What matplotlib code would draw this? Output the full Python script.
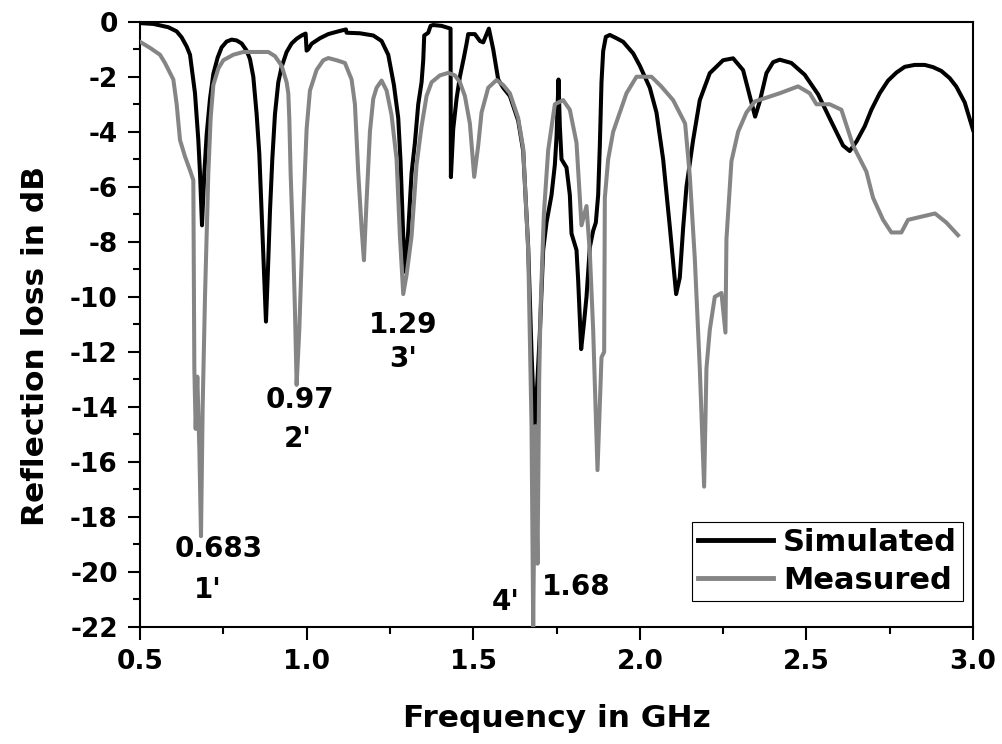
import matplotlib
matplotlib.use('Agg')
from matplotlib import pyplot as plt
from matplotlib.ticker import MultipleLocator, FormatStrFormatter

OUTPUT_FILE = 'out.png'

# simulated reflection loss (GHz, dB)
sim_freq = [0.500, 0.540, 0.585, 0.610, 0.625, 0.640, 0.650, 0.665, 0.675, 0.680,
            0.686, 0.693, 0.700, 0.710, 0.720, 0.733, 0.745, 0.760, 0.775, 0.790,
            0.805, 0.820, 0.830, 0.840, 0.850, 0.858, 0.865, 0.872, 0.878, 0.884,
            0.890, 0.897, 0.905, 0.915, 0.925, 0.940, 0.955, 0.970, 0.985, 0.997,
            1.000, 1.005, 1.015, 1.040, 1.065, 1.095, 1.118, 1.120, 1.160, 1.200,
            1.225, 1.245, 1.262, 1.275, 1.282, 1.290, 1.297, 1.305, 1.315, 1.325,
            1.335, 1.345, 1.350, 1.353, 1.365, 1.372, 1.380, 1.405, 1.432, 1.433,
            1.440, 1.450, 1.460, 1.472, 1.480, 1.485, 1.505, 1.520, 1.530, 1.547,
            1.560, 1.575, 1.590, 1.610, 1.635, 1.650, 1.665, 1.675, 1.684, 1.692,
            1.700, 1.710, 1.720, 1.735, 1.745, 1.750, 1.756, 1.760, 1.765, 1.780,
            1.790, 1.795, 1.810, 1.815, 1.824, 1.832, 1.840, 1.850, 1.860, 1.868,
            1.875, 1.880, 1.885, 1.890, 1.898, 1.910, 1.930, 1.950, 1.980, 2.000,
            2.015, 2.030, 2.050, 2.070, 2.090, 2.109, 2.120, 2.130, 2.140, 2.160,
            2.180, 2.210, 2.250, 2.280, 2.310, 2.330, 2.346, 2.360, 2.380, 2.400,
            2.420, 2.455, 2.495, 2.535, 2.575, 2.610, 2.630, 2.650, 2.675, 2.695,
            2.720, 2.745, 2.770, 2.795, 2.825, 2.855, 2.880, 2.905, 2.930, 2.950,
            2.975, 3.000]
sim_db = [-0.05, -0.08, -0.2, -0.35, -0.57, -0.9, -1.2, -2.6, -4.3, -5.5,
          -7.4, -5.5, -4.1, -2.8, -1.9, -1.3, -0.93, -0.72, -0.65, -0.68,
          -0.79, -1.05, -1.36, -2.0, -3.36, -4.8, -6.9, -9.0, -10.9, -9.0,
          -6.9, -5.0, -3.36, -2.2, -1.64, -1.1, -0.79, -0.62, -0.5, -0.43,
          -1.05, -1.0, -0.8, -0.6, -0.45, -0.35, -0.28, -0.4, -0.42, -0.5,
          -0.7, -1.2, -2.3, -3.5, -5.1, -7.8, -9.1, -7.6, -5.5, -4.4,
          -3.0, -2.2, -1.4, -0.5, -0.4, -0.15, -0.12, -0.15, -0.25, -5.65,
          -3.9, -2.8, -2.0, -1.3, -0.8, -0.45, -0.45, -0.7, -0.75, -0.25,
          -1.0, -2.1, -2.4, -2.7, -3.6, -4.7, -8.2, -12.0, -14.8, -13.2,
          -11.3, -8.3, -7.3, -6.3, -5.2, -4.2, -2.1, -3.8, -5.0, -5.3,
          -6.3, -7.7, -8.3, -9.4, -11.9, -11.0, -10.0, -8.2, -7.6, -7.3,
          -6.3, -4.5, -2.2, -1.07, -0.55, -0.48, -0.6, -0.73, -1.15, -1.6,
          -2.0, -2.4, -3.3, -5.0, -7.45, -9.9, -9.3, -7.5, -6.0, -4.3,
          -2.85, -1.87, -1.4, -1.33, -1.76, -2.7, -3.45, -2.9, -1.87, -1.47,
          -1.38, -1.5, -1.93, -2.64, -3.64, -4.5, -4.7, -4.36, -3.8, -3.2,
          -2.6, -2.14, -1.85, -1.64, -1.57, -1.57, -1.65, -1.79, -2.05, -2.36,
          -2.93, -3.93]

# measured reflection loss (GHz, dB)
meas_freq = [0.500, 0.530, 0.560, 0.575, 0.600, 0.610, 0.620, 0.635, 0.650, 0.660,
             0.663, 0.667, 0.672, 0.678, 0.683, 0.688, 0.695, 0.705, 0.712, 0.720,
             0.735, 0.750, 0.780, 0.810, 0.860, 0.885, 0.905, 0.925, 0.940, 0.945,
             0.948, 0.952, 0.960, 0.965, 0.970, 0.978, 0.990, 1.000, 1.010, 1.030,
             1.050, 1.065, 1.090, 1.115, 1.135, 1.145, 1.155, 1.165, 1.172, 1.180,
             1.190, 1.200, 1.210, 1.225, 1.240, 1.255, 1.270, 1.280, 1.290, 1.300,
             1.315, 1.330, 1.345, 1.360, 1.375, 1.400, 1.425, 1.445, 1.460, 1.475,
             1.490, 1.503, 1.515, 1.525, 1.545, 1.570, 1.590, 1.610, 1.635, 1.650,
             1.665, 1.675, 1.680, 1.686, 1.693, 1.698, 1.702, 1.712, 1.725, 1.745,
             1.770, 1.790, 1.810, 1.825, 1.840, 1.850, 1.860, 1.873, 1.885, 1.893,
             1.895, 1.905, 1.920, 1.940, 1.960, 1.990, 2.035, 2.065, 2.100, 2.136,
             2.150, 2.165, 2.180, 2.193, 2.200, 2.210, 2.225, 2.245, 2.257, 2.260,
             2.275, 2.295, 2.320, 2.345, 2.370, 2.420, 2.475, 2.510, 2.530, 2.570,
             2.605, 2.640, 2.680, 2.700, 2.730, 2.755, 2.785, 2.805, 2.886, 2.920,
             2.955]
meas_db = [-0.73, -0.95, -1.2, -1.5, -2.1, -3.0, -4.3, -4.9, -5.4, -5.76,
           -12.6, -14.8, -12.9, -15.5, -18.7, -14.0, -10.0, -5.5, -3.5, -2.3,
           -1.7, -1.4, -1.2, -1.1, -1.1, -1.1, -1.25, -1.6, -2.2, -2.6,
           -3.5, -5.5, -8.3, -10.5, -13.2, -11.2, -6.9, -3.9, -2.5, -1.75,
           -1.4, -1.32, -1.4, -1.5, -2.1, -3.0, -5.5, -7.5, -8.67, -6.5,
           -4.0, -2.8, -2.4, -2.14, -2.5, -3.4, -5.0, -7.8, -9.9, -9.2,
           -7.8, -5.2, -3.8, -2.7, -2.2, -1.95, -1.86, -1.95, -2.2, -2.7,
           -3.7, -5.64, -4.5, -3.3, -2.4, -2.12, -2.3, -2.6, -3.5, -4.6,
           -8.3, -14.7, -22.0, -14.7, -19.7, -13.0, -10.5, -7.0, -4.67, -3.0,
           -2.85, -3.2, -4.4, -7.4, -6.7, -8.4, -11.2, -16.3, -12.2, -12.0,
           -6.4, -5.0, -4.0, -3.3, -2.6, -2.0, -2.0, -2.36, -2.85, -3.7,
           -5.6, -8.6, -12.6, -16.9, -12.6, -11.2, -10.0, -9.86, -11.3, -7.9,
           -5.07, -4.0, -3.3, -2.9, -2.8, -2.6, -2.35, -2.6, -3.0, -3.0,
           -3.2, -4.5, -5.45, -6.4, -7.2, -7.66, -7.66, -7.2, -6.97, -7.3,
           -7.76]

# resonance annotations: (text, freq, dB)
notes = [('0.683', 0.737, -19.47), ("1'", 0.704, -20.96),
         ('0.97', 0.980, -14.05), ("2'", 0.974, -15.46),
         ('1.29', 1.289, -11.32), ("3'", 1.289, -12.56),
         ("4'", 1.598, -21.39), ('1.68', 1.809, -20.85)]

plt.rcParams['font.family'] = 'DejaVu Sans'
plt.rcParams['font.weight'] = 'bold'
plt.rcParams['axes.unicode_minus'] = False

fig = plt.figure(figsize=(10.03, 7.44), dpi=100)
ax = fig.add_axes([0.1396, 0.1573, 0.8305, 0.8135])

ax.plot(sim_freq, sim_db, color='black', lw=2.9, label='Simulated', zorder=2)
ax.plot(meas_freq, meas_db, color='#858585', lw=2.9, label='Measured', zorder=3)

for txt, f, db in notes:
    ax.text(f, db, txt, ha='center', va='baseline', fontsize=20, fontweight='bold', zorder=4)

ax.set_xlim(0.5, 3.0)
ax.set_ylim(-22, 0)
ax.xaxis.set_major_locator(MultipleLocator(0.5))
ax.xaxis.set_minor_locator(MultipleLocator(0.25))
ax.yaxis.set_major_locator(MultipleLocator(2))
ax.yaxis.set_minor_locator(MultipleLocator(1))
ax.xaxis.set_major_formatter(FormatStrFormatter('%.1f'))
ax.yaxis.set_major_formatter(FormatStrFormatter('%d'))
ax.tick_params(which='major', direction='out', length=9, width=1.5, labelsize=19, pad=7)
ax.tick_params(which='minor', direction='out', length=5, width=1.5)
ax.tick_params(top=False, right=False, which='both')
for s in ax.spines.values():
    s.set_linewidth(1.5)

ax.set_xlabel('Frequency in GHz', fontsize=22.5, fontweight='bold')
ax.set_ylabel('Reflection loss in dB', fontsize=22.5, fontweight='bold')
ax.xaxis.set_label_coords(0.5006, -0.127)
ax.yaxis.set_label_coords(-0.108, 0.4636)

leg = ax.legend(loc='lower right', bbox_to_anchor=(0.988, 0.043), fontsize=22,
                frameon=True, fancybox=False, edgecolor='black', framealpha=1,
                handlelength=2.45, handletextpad=0.33, labelspacing=0.3,
                borderpad=0.2, borderaxespad=0)
leg.set_zorder(5)
leg.get_frame().set_linewidth(0.8)
for line in leg.get_lines():
    line.set_linewidth(3.5)

plt.savefig(OUTPUT_FILE, dpi=100)
